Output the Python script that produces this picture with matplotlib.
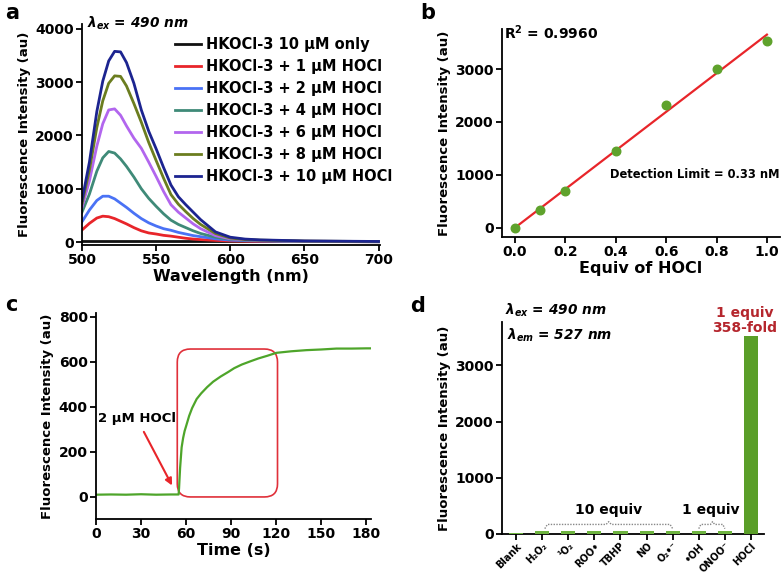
import numpy as np
import matplotlib
matplotlib.use("Agg")
import matplotlib.pyplot as plt
from matplotlib.patches import FancyBboxPatch

plt.rcParams['font.family'] = 'DejaVu Sans'
plt.rcParams['font.weight'] = 'bold'
plt.rcParams['axes.labelweight'] = 'bold'
plt.rcParams['mathtext.fontset'] = 'custom'
plt.rcParams['mathtext.rm'] = 'DejaVu Sans:bold'
plt.rcParams['mathtext.it'] = 'DejaVu Sans:bold:italic'
plt.rcParams['mathtext.bf'] = 'DejaVu Sans:bold'
plt.rcParams['mathtext.default'] = 'it'

# --- panel a: emission spectra ---
wavelength = [500, 505, 510, 514, 518, 522, 526, 530, 535, 540, 545, 550, 555, 560,
              565, 570, 575, 580, 590, 600, 610, 620, 650, 700]
only_10uM = [15] * len(wavelength)
hocl_1uM = [225, 350, 450, 485, 475, 440, 390, 340, 270, 210, 170, 150, 125, 110,
            90, 70, 55, 45, 30, 20, 15, 12, 8, 5]
hocl_2uM = [380, 600, 780, 860, 860, 810, 730, 650, 540, 440, 360, 300, 250, 220,
            180, 150, 120, 100, 60, 35, 25, 20, 10, 5]
hocl_4uM = [560, 900, 1330, 1580, 1700, 1670, 1560, 1420, 1220, 1000, 820, 670, 530, 410,
            330, 270, 210, 160, 90, 50, 35, 25, 12, 5]
hocl_6uM = [650, 1150, 1800, 2220, 2480, 2500, 2380, 2180, 1950, 1760, 1500, 1230, 950, 700,
            560, 450, 340, 250, 120, 60, 40, 30, 15, 8]
hocl_8uM = [720, 1350, 2150, 2650, 2980, 3120, 3110, 2930, 2600, 2250, 1870, 1530, 1200, 890,
            710, 570, 440, 330, 160, 75, 45, 35, 18, 8]
hocl_10uM = [780, 1500, 2450, 3020, 3400, 3580, 3570, 3370, 2980, 2480, 2080, 1750, 1400, 1070,
             850, 700, 560, 420, 190, 90, 55, 40, 20, 10]
spectra_labels = ["HKOCl-3 10 μM only", "HKOCl-3 + 1 μM HOCl", "HKOCl-3 + 2 μM HOCl",
                  "HKOCl-3 + 4 μM HOCl", "HKOCl-3 + 6 μM HOCl", "HKOCl-3 + 8 μM HOCl",
                  "HKOCl-3 + 10 μM HOCl"]
spectra_colors = ["#111111", "#e8252a", "#4a72f5", "#3f8a78", "#b266ee", "#6b7d1f", "#1c2490"]

# --- panel b: linear fit ---
equiv = [0.0, 0.1, 0.2, 0.4, 0.6, 0.8, 1.0]
intensity_b = [0, 347, 695, 1459, 2312, 3000, 3525]

# --- panel c: time course ---
time_s = [0, 10, 20, 30, 40, 50, 55, 55.3, 55.6, 56, 57, 58, 59, 60, 62, 64, 67, 70, 74,
          78, 83, 88, 92, 97, 103, 108, 114, 120, 130, 140, 150, 160, 170, 180, 183]
intensity_c = [10, 11, 10, 12, 10, 11, 11, 40, 80, 130, 220, 262, 293, 315, 360, 395, 435,
               460, 488, 512, 535, 555, 572, 588, 603, 615, 627, 640, 647, 652, 655, 659,
               659, 660, 660]

# --- panel d: selectivity ---
species = ["Blank", "H₂O₂", "¹O₂", "ROO•", "TBHP", "NO", "O₂•⁻", "•OH", "ONOO⁻", "HOCl"]
intensity_d = [10, 55, 50, 52, 52, 52, 55, 48, 55, 3520]

green = "#5a9e28"

fig = plt.figure(figsize=(7.84, 5.74), dpi=100)


def style_axes(ax):
    for s in ['top', 'right']:
        ax.spines[s].set_visible(False)
    for s in ['left', 'bottom']:
        ax.spines[s].set_linewidth(1.3)
    ax.tick_params(direction='out', length=4, width=1.3, labelsize=10, pad=2)


# panel a
ax1 = fig.add_axes([0.1046, 0.5732, 0.3801, 0.3850])
for vals, lab, col in zip([only_10uM, hocl_1uM, hocl_2uM, hocl_4uM, hocl_6uM, hocl_8uM, hocl_10uM],
                          spectra_labels, spectra_colors):
    ax1.plot(wavelength, vals, color=col, lw=2, label=lab)
ax1.set_xlim(500, 701)
ax1.set_ylim(-56, 4094)
ax1.set_xticks([500, 550, 600, 650, 700])
ax1.set_yticks([0, 1000, 2000, 3000, 4000])
style_axes(ax1)
ax1.set_xlabel("Wavelength (nm)", fontsize=11.5, labelpad=1)
ax1.set_ylabel("Fluorescence Intensity (au)", fontsize=9.5, labelpad=3)
fig.legend(loc='upper left', bbox_to_anchor=(175 / 784, 1 - 37 / 574), frameon=False,
           fontsize=10.5, handlelength=1.75, handletextpad=0.35, labelspacing=0.48,
           borderpad=0, borderaxespad=0)
fig.text(87 / 784, 1 - 23 / 574, r"$\lambda_{ex}$ = 490 nm", fontsize=9.8, style='italic',
         va='center', ha='left')

# panel b
ax2 = fig.add_axes([0.6403, 0.5871, 0.3546, 0.3624])
ax2.scatter(equiv, intensity_b, s=38, color="#5fa22c", zorder=3)
slope, icpt = np.polyfit(equiv, intensity_b, 1)
xs = np.array([0.0, 1.0])
ax2.plot(xs, slope * xs + icpt, color="#e8252a", lw=1.6, zorder=2)
ax2.set_xlim(-0.052, 1.052)
ax2.set_ylim(-170, 3755)
ax2.set_xticks([0.0, 0.2, 0.4, 0.6, 0.8, 1.0])
ax2.set_yticks([0, 1000, 2000, 3000])
style_axes(ax2)
ax2.set_xlabel("Equiv of HOCl", fontsize=11.5, labelpad=1)
ax2.set_ylabel("Fluorescence Intensity (au)", fontsize=9.5, labelpad=3)
ax2.text(0.008, 0.98, r"R$^{\mathrm{2}}$ = 0.9960", transform=ax2.transAxes, fontsize=10,
         va='center', ha='left')
ax2.text(0.998, 0.30, "Detection Limit = 0.33 nM", transform=ax2.transAxes, fontsize=8.3,
         va='center', ha='right')

# panel c
ax3 = fig.add_axes([0.1224, 0.0958, 0.3508, 0.3589])
ax3.plot(time_s, intensity_c, color="#4ea52a", lw=1.6)
ax3.set_xlim(0, 183)
ax3.set_ylim(-98, 817)
ax3.set_xticks([0, 30, 60, 90, 120, 150, 180])
ax3.set_yticks([0, 200, 400, 600, 800])
style_axes(ax3)
ax3.set_xlabel("Time (s)", fontsize=11.5, labelpad=1)
ax3.set_ylabel("Fluorescence Intensity (au)", fontsize=9.5, labelpad=3)
box = FancyBboxPatch((54.1, 0), 120.8 - 54.1, 657, boxstyle="round,pad=0,rounding_size=8.7",
                     mutation_aspect=6.67, fill=False, edgecolor="#e0303a", lw=1.2, zorder=1)
ax3.add_patch(box)
ax3.annotate("", xy=(51.5, 40), xytext=(31, 300),
             arrowprops=dict(arrowstyle="-|>", color="#e8252a", lw=1.5, mutation_scale=10))
ax3.text(27, 350, "2 μM HOCl", fontsize=9.5, ha='center', va='center')

# panel d
ax4 = fig.add_axes([0.6403, 0.0697, 0.3342, 0.3693])
pos = np.arange(len(species))
bar_cols = ["#6db33f"] * (len(species) - 1) + [green]
ax4.bar(pos, intensity_d, width=0.54, color=bar_cols, zorder=3)
ax4.set_xlim(-0.54, 9.5)
ax4.set_ylim(0, 3770)
ax4.set_yticks([0, 1000, 2000, 3000])
ax4.set_xticks(pos)
style_axes(ax4)
ax4.set_xticklabels(species, rotation=45, ha='right', rotation_mode='anchor', fontsize=7)
ax4.tick_params(axis='x', pad=1)
ax4.set_ylabel("Fluorescence Intensity (au)", fontsize=9.5, labelpad=3)
brk = dict(color="#888888", lw=1, ls=(0, (1, 1)))
ax4.plot([1.1, 1.2, 3.45, 3.55, 3.65, 5.9, 6.0], [95, 170, 170, 220, 170, 170, 95], **brk)
ax4.plot([7.0, 7.08, 7.45, 7.53, 7.61, 7.92, 8.0], [95, 170, 170, 220, 170, 170, 95], **brk)
ax4.text(3.55, 430, "10 equiv", fontsize=10, ha='center', va='center')
ax4.text(7.45, 430, "1 equiv", fontsize=10, ha='center', va='center')
ax4.text(8.75, 3800, "1 equiv\n358-fold", fontsize=10, ha='center', va='center',
         color="#b5262d", clip_on=False, linespacing=1.1)
fig.text(505 / 784, 1 - 310 / 574, r"$\lambda_{ex}$ = 490 nm", fontsize=9.8, style='italic',
         va='center', ha='left')
fig.text(507 / 784, 1 - 335 / 574, r"$\lambda_{em}$ = 527 nm", fontsize=9.8, style='italic',
         va='center', ha='left')

# panel letters
for lab, x, y in [("a", 5, 13), ("b", 420, 13), ("c", 5, 305), ("d", 410, 306)]:
    fig.text(x / 784, 1 - y / 574, lab, fontsize=15, ha='left', va='center')

fig.savefig("out.png", dpi=100)
